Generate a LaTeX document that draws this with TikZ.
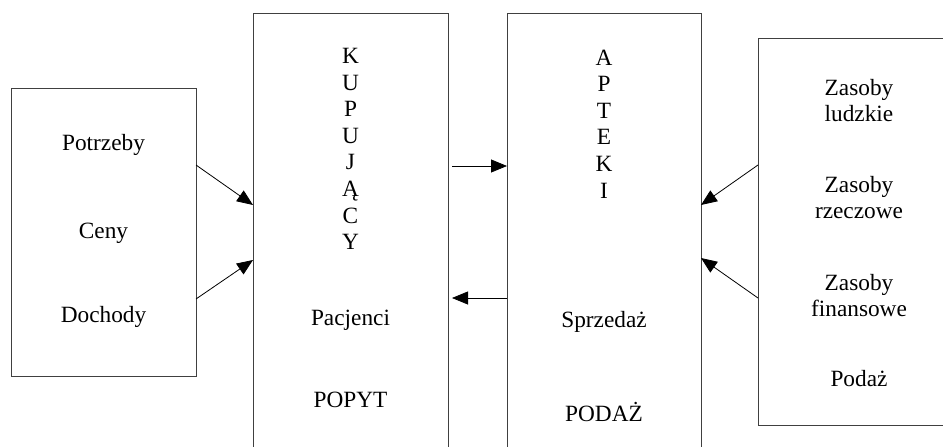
\documentclass[tikz,border=0pt]{standalone}
\usepackage{fontspec}
\setmainfont{Liberation Serif}
\usetikzlibrary{arrows.meta}
\begin{document}
\begin{tikzpicture}[x=1pt,y=-1pt,
  box/.style={draw=black!75,line width=1pt,inner sep=0pt,outer sep=0pt,rectangle},
  lbl/.style={font=\fontsize{23.3}{26}\selectfont,align=center,inner sep=0pt},
  stack/.style={font=\fontsize{23.3}{26.6}\selectfont,align=center,inner sep=0pt},
  arr/.style={draw=black,line width=0.8pt,-{Triangle[length=16pt,width=13pt]}}]
\useasboundingbox (0,0) rectangle (943,447);
\clip (0,0) rectangle (943,447);
% boxes
\node[box,minimum width=185pt,minimum height=288pt] (det) at (103.5,232) {};
\node[box,minimum width=195pt,minimum height=470pt] (kup) at (350.5,248) {};
\node[box,minimum width=194pt,minimum height=470pt] (apt) at (604,248) {};
\node[box,minimum width=210pt,minimum height=387pt] (zas) at (863,231.5) {};
% left texts
\node[lbl] (potrz) at (103.5,145) {Potrzeby};
\node[lbl] (ceny) at (103.5,233) {Ceny};
\node[lbl] (doch) at (103.5,317) {Dochody};
% KUPUJACY
\node[stack] (kupt) at (350.5,149) {K\\U\\P\\U\\J\\Ą\\C\\Y};
\node[lbl] (pac) at (350.5,320) {Pacjenci};
\node[lbl] (popyt) at (350.5,400) {POPYT};
% APTEKI
\node[stack] (aptt) at (604,124) {A\\P\\T\\E\\K\\I};
\node[lbl] (sprz) at (604,322) {Sprzedaż};
\node[lbl] (podaz) at (604,412) {PODAŻ};
% right texts
\node[lbl] (z1) at (859,101) {Zasoby\\ludzkie};
\node[lbl] (z2) at (859,198) {Zasoby\\rzeczowe};
\node[lbl] (z3) at (859,296) {Zasoby\\finansowe};
\node[lbl] (z4) at (859,379) {Podaż};
% connector anchor points
\coordinate (a1s) at (det.east |- 0,165);
\coordinate (a1e) at (kup.west |- 0,205);
\coordinate (a2s) at (det.east |- 0,299);
\coordinate (a2e) at (kup.west |- 0,260);
\coordinate (a3s) at ([xshift=4pt]kup.east |- 0,166);
\coordinate (a3e) at (apt.west |- 0,166);
\coordinate (a4s) at (apt.west |- 0,298);
\coordinate (a4e) at ([xshift=4pt]kup.east |- 0,298);
\coordinate (a5s) at (zas.west |- 0,165);
\coordinate (a5e) at (apt.east |- 0,205);
\coordinate (a6s) at (zas.west |- 0,298);
\coordinate (a6e) at (apt.east |- 0,258);
\draw[arr] (a1s) -- (a1e);
\draw[arr] (a2s) -- (a2e);
\draw[arr] (a3s) -- (a3e);
\draw[arr] (a4s) -- (a4e);
\draw[arr] (a5s) -- (a5e);
\draw[arr] (a6s) -- (a6e);
\end{tikzpicture}
\end{document}
